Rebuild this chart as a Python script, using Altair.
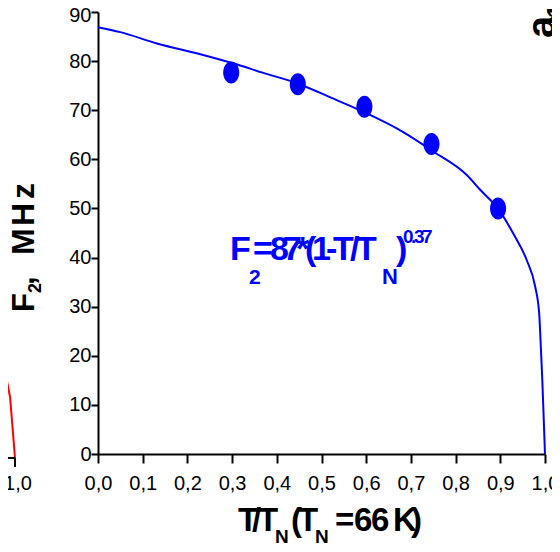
import altair as alt
import pandas as pd

# ---------------- data ----------------
# fitted curve F2(T/TN)
fit_t = [0.0, 0.05, 0.132, 0.229, 0.30, 0.37, 0.445, 0.52, 0.60, 0.68, 0.75,
         0.825, 0.855, 0.896, 0.929, 0.959, 0.978, 0.987, 0.990, 0.994, 1.0]
fit_f = [86.9, 85.9, 83.6, 81.4, 79.6, 77.6, 75.5, 72.6, 69.4, 65.7, 61.6,
         56.8, 53.8, 49.8, 44.9, 39.5, 34.1, 28.6, 23.2, 15.0, 0.0]
# measured points
pts_t = [0.298, 0.447, 0.596, 0.746, 0.895]
pts_f = [77.7, 75.3, 70.7, 63.1, 50.0]
# cropped neighbouring panel (red curve, left edge)
prev_t = [0.9665, 0.9815, 0.989, 1.0]
prev_f = [23.4, 15.9, 12.4, 0.0]
prev_axis_t = [0.90]
prev_axis_t2 = [1.0]
prev_tick_t = [1.0]
prev_tick_label = ["1,0"]

x_tick_values = [round(i * 0.05, 2) for i in range(21)]
y_tick_values = list(range(0, 91, 5))

# ---------------- layout ----------------
W, H = 447, 442
BLUE = "#0000FF"
RED = "#FF0000"
FONT = "Liberation Sans"
ELLIPSE = "M0,-1A0.73,1 0 1,1 0,1A0.73,1 0 1,1 0,-1Z"

major_x = "abs(datum.value*10-round(datum.value*10))<0.001"
major_y = "datum.value % 10 == 0"

x_axis = alt.Axis(
    values=x_tick_values,
    labelExpr=f"{major_x} ? replace(format(datum.value,'.1f'),'.',',') : ''",
    tickSize={"condition": {"test": major_x, "value": 9}, "value": 5},
    title=None, grid=False, domainColor="black", domainWidth=2,
    tickColor="black", tickWidth=2, labelFont=FONT, labelFontSize=20,
    labelColor="black", labelPadding=10, labelFlush=False,
)
y_axis = alt.Axis(
    values=y_tick_values,
    labelExpr=f"{major_y} ? format(datum.value,'d') : ''",
    tickSize={"condition": {"test": major_y, "value": 7}, "value": 4},
    labelOffset={"condition": {"test": "datum.value == 90", "value": 3}, "value": 0},
    title=None, grid=False, domainColor="black", domainWidth=2,
    tickColor="black", tickWidth=2, labelFont=FONT, labelFontSize=20,
    labelColor="black", labelPadding=0, labelFlush=False,
)

xs = alt.Scale(domain=[0, 1], nice=False, zero=False)
ys = alt.Scale(domain=[0, 90], nice=False, zero=False)

df_fit = pd.DataFrame({"t": fit_t, "f": fit_f})
df_pts = pd.DataFrame({"t": pts_t, "f": pts_f})

line = alt.Chart(df_fit).mark_line(color=BLUE, strokeWidth=2, interpolate="monotone").encode(
    x=alt.X("t:Q", scale=xs, axis=x_axis),
    y=alt.Y("f:Q", scale=ys, axis=y_axis),
)
pts = alt.Chart(df_pts).mark_point(shape=ELLIPSE, filled=True, size=484, color=BLUE,
                                   opacity=1, strokeWidth=0).encode(
    x=alt.X("t:Q", scale=xs),
    y=alt.Y("f:Q", scale=ys),
)
main = alt.layer(line, pts)

# neighbouring (cropped) panel on the far left
px = alt.Scale(domain=[0.9665, 1.0], range=[-98, -83], nice=False, zero=False)
py = alt.Scale(domain=[0, 23.4], range=[446, 331], nice=False, zero=False)
red = alt.Chart(pd.DataFrame({"t": prev_t, "f": prev_f})).mark_line(color=RED, strokeWidth=2).encode(
    x=alt.X("t:Q", scale=px, axis=None), y=alt.Y("f:Q", scale=py, axis=None))
red_axis = alt.Chart(pd.DataFrame({"t": prev_axis_t, "t2": prev_axis_t2, "f": [0]})).mark_rule(
    color="black", strokeWidth=2).encode(
    x=alt.X("t:Q", scale=px, axis=None), x2="t2:Q", y=alt.Y("f:Q", scale=py, axis=None))
red_tick = alt.Chart(pd.DataFrame({"t": prev_tick_t, "f": [0]})).mark_rule(
    color="black", strokeWidth=2).encode(
    x=alt.X("t:Q", scale=px, axis=None), y=alt.Y("f:Q", scale=py, axis=None), y2=alt.value(455))
red_label = alt.Chart(pd.DataFrame({"t": prev_tick_t, "f": [0], "lab": prev_tick_label})).mark_text(
    font=FONT, fontSize=20, color="black", baseline="top", dy=16, dx=3).encode(
    x=alt.X("t:Q", scale=px, axis=None), y=alt.Y("f:Q", scale=py, axis=None), text="lab:N")
prev = alt.layer(red, red_axis, red_tick, red_label)

# text pieces: (text, x, y, size, color, angle)
pieces = [
    # x-axis title  T/T_N (T_N = 66 K)
    ("T", 140, 519, 33, "black", 0), ("/", 154, 519, 33, "black", 0),
    ("T", 160, 519, 33, "black", 0), ("N", 177, 531, 19, "black", 0),
    ("(", 193, 519, 33, "black", 0), ("T", 200, 519, 33, "black", 0),
    ("N", 217, 531, 19, "black", 0), ("=", 237, 519, 33, "black", 0),
    ("6", 256, 519, 33, "black", 0), ("6", 273, 519, 33, "black", 0),
    ("K", 295, 519, 33, "black", 0), (")", 313, 519, 33, "black", 0),
    # y-axis title  F_2, MHz (rotated)
    ("F", -64, 300, 31, "black", 270), ("2", -57, 281, 18, "black", 270),
    (",", -64, 273, 31, "black", 270), ("M", -64, 243, 32, "black", 270),
    ("H", -64, 214, 32, "black", 270), ("z", -64, 187, 32, "black", 270),
    # annotation  F2=87*(1-T/TN)^0.37
    ("F", 132, 248, 34, BLUE, 0), ("2", 151, 272, 21, BLUE, 0),
    ("=", 155, 248, 34, BLUE, 0), ("8", 172, 248, 34, BLUE, 0),
    ("7", 185, 248, 34, BLUE, 0), ("*", 198, 248, 34, BLUE, 0),
    ("(", 207, 248, 34, BLUE, 0), ("1", 214, 248, 34, BLUE, 0),
    ("-", 228, 248, 34, BLUE, 0), ("T", 235, 248, 34, BLUE, 0),
    ("/", 252, 248, 34, BLUE, 0), ("T", 258, 248, 34, BLUE, 0),
    ("N", 284, 272, 22, BLUE, 0), (")", 298, 248, 34, BLUE, 0),
    ("0", 305, 231, 19, BLUE, 0), (".", 313, 231, 19, BLUE, 0),
    ("3", 316, 231, 19, BLUE, 0), ("7", 324, 231, 19, BLUE, 0),
    # panel label (cropped at the right edge)
    ("a", 457, 26, 40, "black", 270), ("1", 466, 6, 24, "black", 270),
]
df_txt = pd.DataFrame(pieces, columns=["s", "x", "y", "fs", "c", "a"])
texts = alt.Chart(df_txt).mark_text(font=FONT, fontWeight="bold", align="left",
                                    baseline="alphabetic").encode(
    x=alt.X("x:Q", scale=None, axis=None),
    y=alt.Y("y:Q", scale=None, axis=None),
    text="s:N",
    size=alt.Size("fs:Q", scale=None, legend=None),
    color=alt.Color("c:N", scale=None, legend=None),
    angle=alt.Angle("a:Q", scale=None, legend=None),
)

chart = alt.layer(prev, main, texts).resolve_scale(
    x="independent", y="independent"
).properties(
    width=W, height=H,
    autosize=alt.AutoSizeParams(type="none"),
    padding={"left": 90, "top": 4, "right": 7, "bottom": 90},
    background="white",
).configure_view(stroke=None)

chart.save("out.html", embed_options={"renderer": "svg", "actions": False})
